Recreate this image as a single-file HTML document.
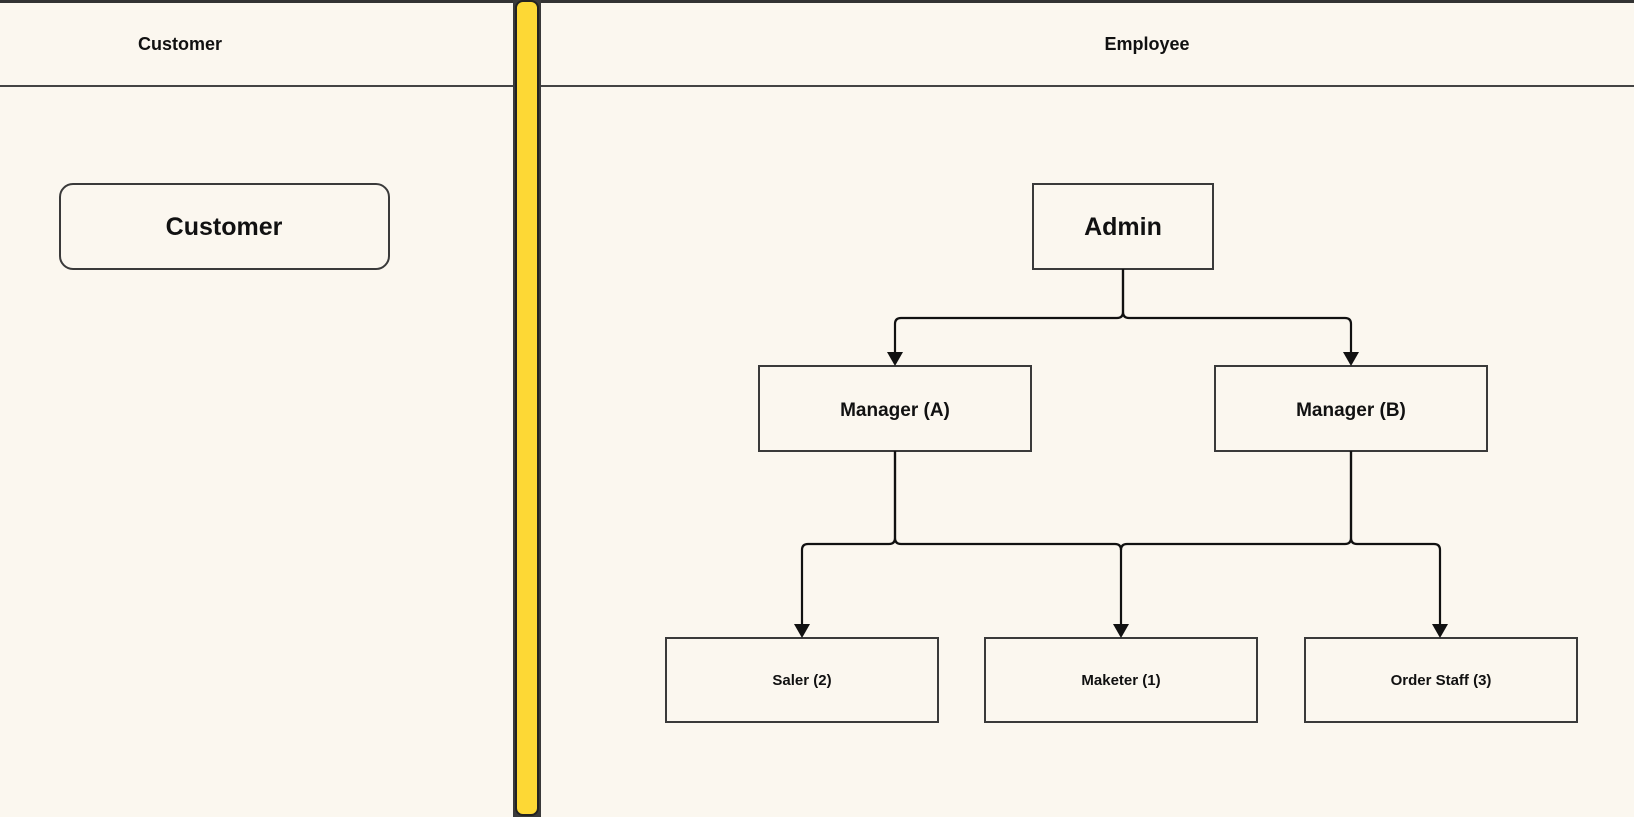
<!DOCTYPE html>
<html><head><meta charset="utf-8"><style>
html,body{margin:0;padding:0;width:1634px;height:817px;overflow:hidden;background:#fbf7ef;}
svg text{font-family:"Liberation Sans",sans-serif;font-weight:bold;fill:#111;}
</style></head><body>
<svg width="1634" height="817" viewBox="0 0 1634 817" xmlns="http://www.w3.org/2000/svg">
<rect width="1634" height="817" fill="#fbf7ef"/>
<line x1="0" y1="1.5" x2="1634" y2="1.5" stroke="#333" stroke-width="3"/>
<line x1="0" y1="86" x2="514" y2="86" stroke="#444" stroke-width="2"/>
<line x1="540" y1="86" x2="1634" y2="86" stroke="#444" stroke-width="2"/>
<rect x="513" y="0" width="28" height="817" fill="#3a3a3a"/>
<rect x="516" y="1" width="22" height="814" rx="7" fill="#fdd835" stroke="#222" stroke-width="2"/>
<text x="180" y="50" font-size="18" text-anchor="middle">Customer</text>
<text x="1147" y="50" font-size="18" text-anchor="middle">Employee</text>
<rect x="60" y="184" width="329" height="85" rx="13" fill="none" stroke="#3a3a3a" stroke-width="2"/>
<text x="224" y="235" font-size="25" text-anchor="middle">Customer</text>
<g fill="none" stroke="#3a3a3a" stroke-width="2">
<rect x="1033" y="184" width="180" height="85"/>
<rect x="759" y="366" width="272" height="85"/>
<rect x="1215" y="366" width="272" height="85"/>
<rect x="666" y="638" width="272" height="84"/>
<rect x="985" y="638" width="272" height="84"/>
<rect x="1305" y="638" width="272" height="84"/>
</g>
<text x="1123" y="235" font-size="25" text-anchor="middle">Admin</text>
<text x="895" y="416" font-size="19" text-anchor="middle">Manager (A)</text>
<text x="1351" y="416" font-size="19" text-anchor="middle">Manager (B)</text>
<text x="802" y="685" font-size="15" text-anchor="middle">Saler (2)</text>
<text x="1121" y="685" font-size="15" text-anchor="middle">Maketer (1)</text>
<text x="1441" y="685" font-size="15" text-anchor="middle">Order Staff (3)</text>
<g fill="none" stroke="#111" stroke-width="2.2">
<path d="M1123 269 V312 Q1123 318 1117 318 H901 Q895 318 895 324 V356"/>
<path d="M1123 269 V312 Q1123 318 1129 318 H1345 Q1351 318 1351 324 V356"/>
<path d="M895 451 V538 Q895 544 889 544 H808 Q802 544 802 550 V626"/>
<path d="M895 451 V538 Q895 544 901 544 H1115 Q1121 544 1121 550 V626"/>
<path d="M1351 451 V538 Q1351 544 1345 544 H1127 Q1121 544 1121 550"/>
<path d="M1351 451 V538 Q1351 544 1357 544 H1434 Q1440 544 1440 550 V626"/>
</g>
<g fill="#111">
<polygon points="887,352 903,352 895,366"/>
<polygon points="1343,352 1359,352 1351,366"/>
<polygon points="794,624 810,624 802,638"/>
<polygon points="1113,624 1129,624 1121,638"/>
<polygon points="1432,624 1448,624 1440,638"/>
</g>
</svg>
</body></html>
